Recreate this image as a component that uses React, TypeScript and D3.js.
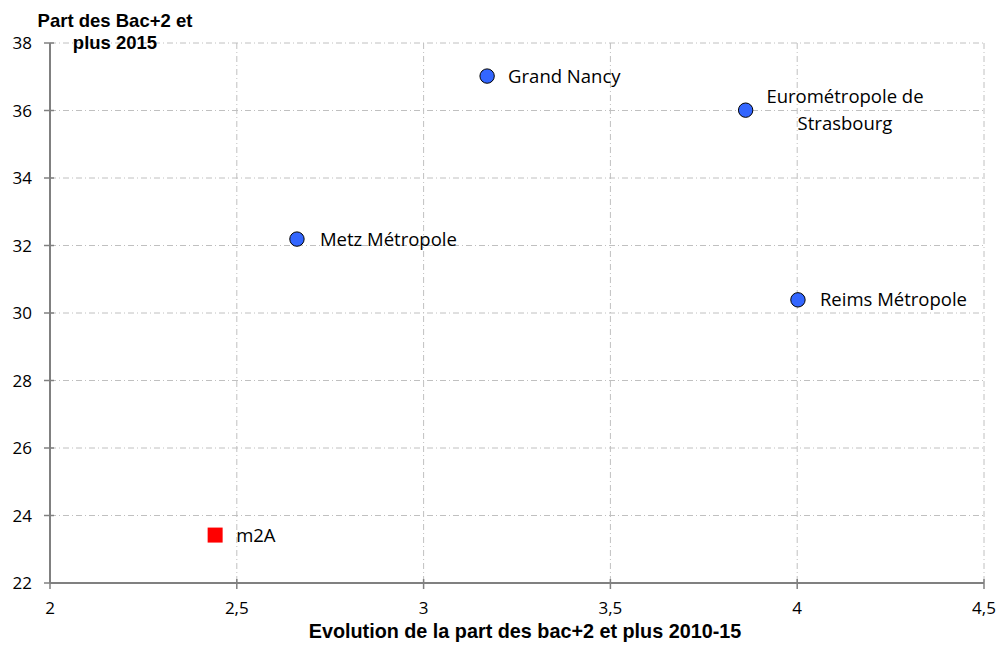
import React from "react";
import * as d3 from "d3";

const names = ["m2A", "Metz Métropole", "Grand Nancy", "Eurométropole de Strasbourg", "Reims Métropole"];
const xValues = [2.442, 2.661, 3.17, 3.862, 4.002];
const yValues = [23.42, 32.19, 37.02, 36.01, 30.39];
const shapes = ["square", "circle", "circle", "circle", "circle"];
const xTicks = [2, 2.5, 3, 3.5, 4, 4.5];
const yTicks = [22, 24, 26, 28, 30, 32, 34, 36, 38];

const W = 997, H = 646;
const left = 50, right = 984, top = 43, bottom = 583;

export default function App() {
  const x = d3.scaleLinear().domain([2, 4.5]).range([left, right]);
  const y = d3.scaleLinear().domain([22, 38]).range([bottom, top]);
  const fmt = (v: number) => String(v).replace(".", ",");
  const labelFont = "Open Sans, sans-serif";
  const boldFont = "Liberation Sans, Arial, sans-serif";
  const lfs = 18.5;
  return (
    <svg width={W} height={H} style={{ position: "absolute", left: 0, top: 0 }}>
      <rect width={W} height={H} fill="#fff" />
      {xTicks.slice(1).map((t) => (
        <line key={"gx" + t} x1={x(t)} x2={x(t)} y1={top} y2={bottom} stroke="#c0c0c0" strokeWidth={1} strokeDasharray="6,3,1,3" />
      ))}
      {yTicks.slice(1).map((t) => (
        <line key={"gy" + t} x1={left} x2={right} y1={y(t)} y2={y(t)} stroke="#c0c0c0" strokeWidth={1} strokeDasharray="6,3,1,3" />
      ))}
      <line x1={left} x2={left} y1={top} y2={bottom} stroke="#808080" strokeWidth={2} />
      <line x1={left} x2={right} y1={bottom} y2={bottom} stroke="#808080" strokeWidth={2} />
      {yTicks.map((t) => (
        <line key={"ty" + t} x1={left - 6} x2={left + 4} y1={y(t)} y2={y(t)} stroke="#808080" strokeWidth={1.5} />
      ))}
      {xTicks.map((t) => (
        <line key={"tx" + t} x1={x(t)} x2={x(t)} y1={bottom - 4} y2={bottom + 6} stroke="#808080" strokeWidth={1.5} />
      ))}
      {yTicks.map((t) => (
        <text key={"ly" + t} x={32} y={y(t)} dy="0.36em" textAnchor="end" fontFamily={labelFont} fontSize={17} fill="#000">
          {fmt(t)}
        </text>
      ))}
      {xTicks.map((t) => (
        <text key={"lx" + t} x={x(t)} y={614} textAnchor="middle" fontFamily={labelFont} fontSize={17} fill="#000">
          {fmt(t)}
        </text>
      ))}
      <text x={525} y={638} textAnchor="middle" fontFamily={boldFont} fontWeight="bold" fontSize={19.8} fill="#000">
        Evolution de la part des bac+2 et plus 2010-15
      </text>
      <text x={115} y={27} textAnchor="middle" fontFamily={boldFont} fontWeight="bold" fontSize={18.5} fill="#000">
        <tspan x={115}>Part des Bac+2 et</tspan>
        <tspan x={115} dy={22}>plus 2015</tspan>
      </text>
      {names.map((n, i) => {
        const cx = x(xValues[i]);
        const cy = y(yValues[i]);
        return (
          <g key={n}>
            {shapes[i] === "square" ? (
              <rect x={cx - 7.5} y={cy - 7.5} width={15} height={15} fill="#ff0000" />
            ) : (
              <circle cx={cx} cy={cy} r={7.2} fill="#3366ff" stroke="#000" strokeWidth={1} />
            )}
          </g>
        );
      })}
      <text x={x(xValues[0]) + 21} y={y(yValues[0])} dy="0.36em" fontFamily={labelFont} fontSize={lfs} fill="#000">{names[0]}</text>
      <text x={x(xValues[1]) + 23} y={y(yValues[1])} dy="0.36em" fontFamily={labelFont} fontSize={lfs} fill="#000">{names[1]}</text>
      <text x={x(xValues[2]) + 21} y={y(yValues[2])} dy="0.36em" fontFamily={labelFont} fontSize={lfs} fill="#000">{names[2]}</text>
      <text x={845} y={103} textAnchor="middle" fontFamily={labelFont} fontSize={lfs} fill="#000">
        <tspan x={845}>Eurométropole de</tspan>
        <tspan x={845} dy={27}>Strasbourg</tspan>
      </text>
      <text x={x(xValues[4]) + 22} y={y(yValues[4])} dy="0.36em" fontFamily={labelFont} fontSize={lfs} fill="#000">{names[4]}</text>
    </svg>
  );
}
